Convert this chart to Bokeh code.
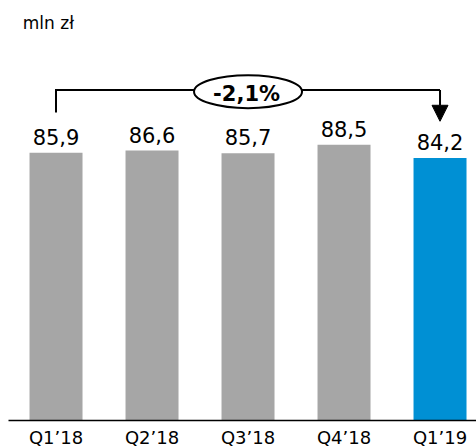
from bokeh.plotting import figure
from bokeh.models import Range1d, FixedTicker, ColumnDataSource, Arrow, NormalHead
from bokeh.core.properties import value
from bokeh.embed import file_html
from bokeh.resources import INLINE

# --- data ---
categories = ["Q1\u201918", "Q2\u201918", "Q3\u201918", "Q4\u201918", "Q1\u201919"]
values = [85.9, 86.6, 85.7, 88.5, 84.2]
bar_colors = ["#A6A6A6", "#A6A6A6", "#A6A6A6", "#A6A6A6", "#0090D4"]
change_label = "-2,1%"
unit_label = "mln z\u0142"

FONT = "DejaVu Sans"
idx = list(range(len(categories)))
labels = [f"{v:.1f}".replace(".", ",") for v in values]

src = ColumnDataSource(dict(x=idx, top=values, color=bar_colors, label=labels))

p = figure(frame_width=468, frame_height=413, min_border=0, min_border_left=8,
           min_border_top=7,
           x_range=Range1d(-0.495, 4.38), y_range=Range1d(0, 132.5),
           y_axis_location=None, toolbar_location=None, output_backend="svg",
           background_fill_color="white", border_fill_color="white")
p.outline_line_color = None
p.grid.visible = False

p.vbar(x="x", top="top", width=0.552, bottom=0, color="color", source=src, line_color=None)

p.text(x="x", y="top", text="label", source=src, y_offset=-16,
       text_align="center", text_baseline="alphabetic",
       text_font=value(FONT), text_font_size=value("21px"), text_color="#000000")

# bracket with arrow
by = max(values) + 17.5
left_end = values[0] + 12.9
tip = values[-1] + 11.8
p.line(x=[idx[0], idx[0], idx[-1]], y=[left_end, by, by], line_color="black",
       line_width=2, line_join="miter")
p.add_layout(Arrow(end=NormalHead(size=16, fill_color="black", line_color="black", line_width=1),
                   x_start=idx[-1], y_start=by, x_end=idx[-1], y_end=tip,
                   line_color="black", line_width=2))
mid = (idx[0] + idx[-1]) / 2
p.ellipse(x=[mid], y=[by - 0.5], width=108, height=33, width_units="screen",
          height_units="screen", fill_color="white", line_color="black", line_width=2)
p.text(x=[mid - 0.015], y=[by - 2.9], text=[change_label], y_offset=-5, text_align="center",
       text_baseline="alphabetic", text_font=value(FONT), text_font_size=value("21px"),
       text_font_style="bold", text_color="#000000")

p.text(x=[-0.346], y=[126.0], text=[unit_label], y_offset=-5, text_align="left",
       text_baseline="alphabetic", text_font=value(FONT), text_font_size=value("17px"),
       text_color="#000000")

ax = p.xaxis[0]
ax.ticker = FixedTicker(ticks=idx)
ax.major_label_overrides = {i: c for i, c in zip(idx, categories)}
ax.major_tick_line_color = None
ax.minor_tick_line_color = None
ax.major_tick_out = 0
ax.major_tick_in = 0
ax.major_label_standoff = 6
ax.axis_line_color = "black"
ax.axis_line_width = 1.5
ax.major_label_text_font = FONT
ax.major_label_text_font_size = "18px"
ax.major_label_text_color = "#000000"

open("out.html", "w").write(file_html(p, INLINE))
